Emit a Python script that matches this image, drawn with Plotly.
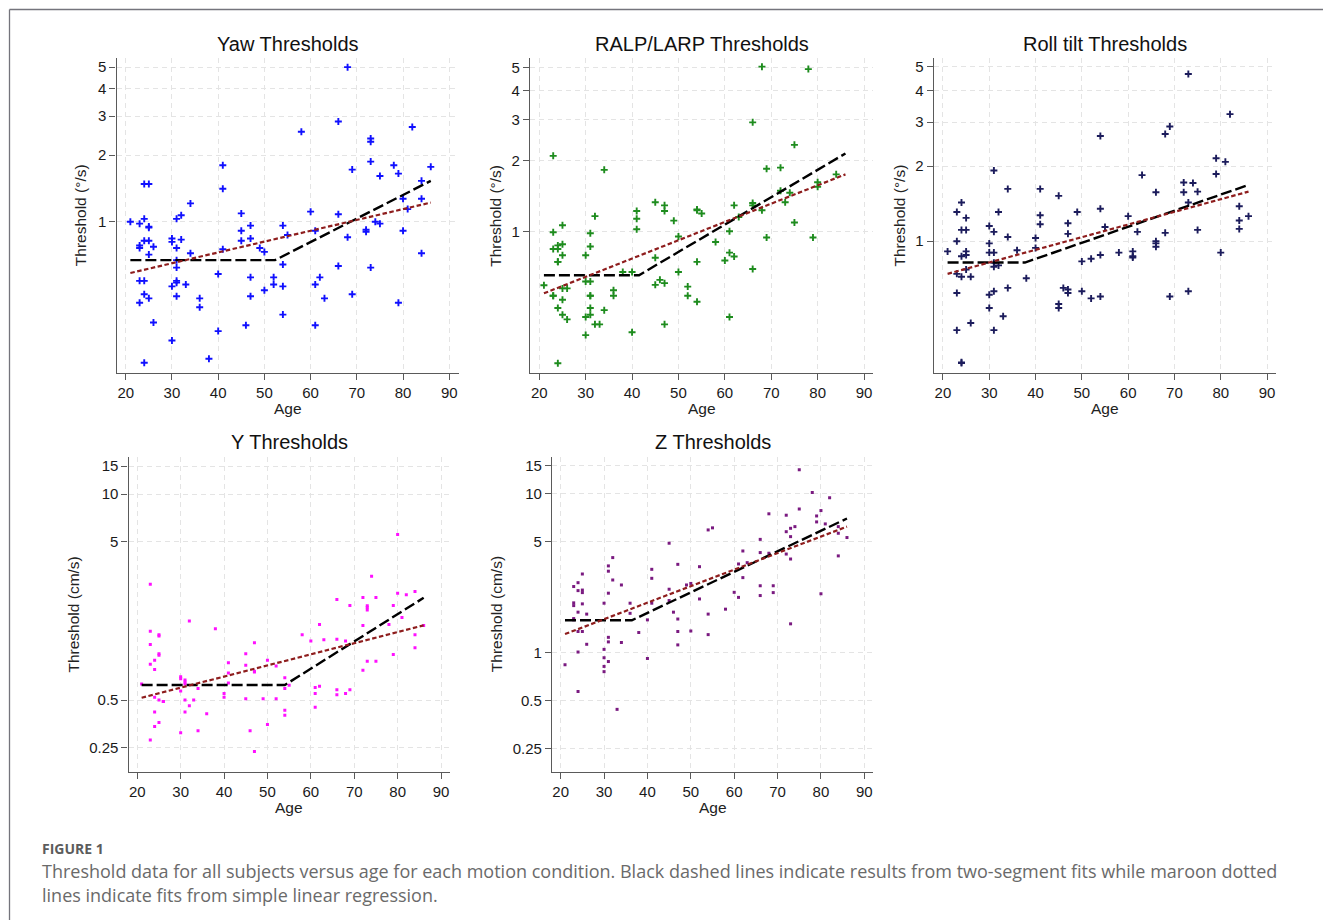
import plotly.graph_objects as go

W, H = 1323, 920

# ---- data: age (years) and threshold per motion condition ----
yaw_age = [21, 23, 23, 23, 23, 23, 24, 25, 24, 25, 25, 24, 25, 25, 26, 24, 24, 25, 26, 24,
           30, 30, 31, 32, 32, 31, 31, 31, 31, 31, 30, 31, 33, 34, 34, 30, 36, 36, 38, 40,
           40, 41, 41, 41, 45, 45, 45, 47, 47, 47, 47, 46, 49, 50, 50, 52, 52, 54, 55, 54,
           54, 54, 58, 60, 61, 62, 61, 63, 61, 66, 66, 66, 68, 68, 69, 69, 73, 73, 73, 72,
           72, 74, 75, 75, 73, 78, 79, 80, 80, 79, 82, 81, 84, 84, 84, 86]
yaw_thr = [1.0, 0.98, 0.78, 0.76, 0.54, 0.43, 1.48, 1.48, 1.03, 0.95, 0.94, 0.82, 0.82, 0.71,
           0.77, 0.54, 0.47, 0.45, 0.35, 0.23, 0.84, 0.81, 1.03, 1.07, 0.83, 0.76, 0.67, 0.62,
           0.54, 0.53, 0.51, 0.46, 0.52, 1.21, 0.72, 0.29, 0.45, 0.41, 0.24, 0.58, 0.32, 1.80,
           1.41, 0.75, 1.09, 0.91, 0.82, 0.96, 0.84, 0.56, 0.46, 0.34, 0.76, 0.73, 0.49, 0.56,
           0.52, 0.96, 0.87, 0.64, 0.51, 0.38, 2.55, 1.11, 0.91, 0.56, 0.52, 0.45, 0.34, 2.84,
           1.08, 0.63, 5.0, 0.85, 1.72, 0.47, 2.38, 2.30, 1.87, 0.92, 0.90, 1.0, 1.61, 0.98,
           0.62, 1.80, 1.65, 1.27, 0.91, 0.43, 2.68, 1.14, 1.53, 1.27, 0.72, 1.77]

ralp_age = [21, 23, 23, 23, 23, 23, 24, 24, 24, 24, 24, 24, 25, 25, 25, 25, 25, 25, 26, 26,
            30, 30, 30, 30, 31, 31, 31, 31, 31, 31, 31, 32, 32, 33, 34, 34, 36, 36, 38, 40,
            40, 41, 41, 41, 45, 45, 45, 46, 47, 47, 47, 47, 49, 50, 50, 52, 52, 54, 54, 54,
            54, 55, 58, 60, 61, 61, 61, 62, 62, 63, 66, 66, 66, 66, 68, 68, 69, 69, 72, 72,
            73, 74, 75, 75, 78, 79, 80, 80, 84]
ralp_thr = [0.588, 2.10, 0.99, 0.84, 0.53, 0.53, 0.87, 0.84, 0.74, 0.74, 0.47, 0.273, 1.06,
            0.88, 0.79, 0.57, 0.51, 0.44, 0.57, 0.42, 0.79, 0.61, 0.43, 0.36, 0.98, 0.86, 0.61,
            0.53, 0.53, 0.47, 0.44, 1.16, 0.40, 0.40, 1.83, 0.46, 0.56, 0.53, 0.67, 0.67, 0.37,
            1.22, 1.13, 1.02, 1.33, 0.77, 0.59, 0.62, 1.29, 1.22, 0.60, 0.40, 1.11, 0.95, 0.67,
            0.58, 0.53, 1.24, 1.23, 0.74, 0.50, 1.19, 0.90, 0.75, 1.0, 0.81, 0.43, 1.29, 0.78,
            1.15, 2.92, 1.32, 1.29, 0.69, 5.05, 1.23, 1.85, 0.94, 1.87, 1.49, 1.33, 1.46, 2.34,
            1.09, 4.93, 0.94, 1.62, 1.55, 1.75]

roll_age = [21, 23, 23, 23, 23, 23, 24, 24, 24, 24, 24, 24, 25, 25, 25, 25, 25, 26, 26, 30,
            30, 30, 30, 30, 31, 31, 31, 31, 31, 31, 31, 32, 32, 33, 34, 34, 34, 36, 38, 40,
            40, 41, 41, 41, 45, 45, 45, 46, 47, 47, 47, 47, 49, 50, 50, 52, 52, 54, 54, 54,
            54, 55, 58, 60, 61, 61, 61, 62, 63, 66, 66, 66, 66, 68, 68, 69, 69, 72, 72, 73,
            73, 73, 74, 75, 75, 79, 79, 80, 81, 82, 84, 84, 84, 86]
roll_thr = [0.91, 1.31, 1.0, 0.74, 0.62, 0.44, 1.43, 1.11, 0.87, 0.72, 0.327, 0.325, 1.24,
            1.11, 0.91, 0.88, 0.77, 0.72, 0.47, 1.15, 0.98, 0.90, 0.61, 0.54, 1.92, 1.09, 0.90,
            0.82, 0.79, 0.63, 0.44, 1.31, 0.80, 0.50, 1.62, 1.04, 0.65, 0.92, 0.71, 1.03, 0.94,
            1.62, 1.27, 1.17, 1.52, 0.56, 0.54, 0.65, 1.18, 1.07, 0.64, 0.62, 1.31, 0.83, 0.63,
            0.85, 0.59, 2.64, 1.35, 0.88, 0.60, 1.14, 0.90, 1.26, 0.91, 0.87, 0.86, 1.09, 1.84,
            1.57, 1.0, 0.98, 0.95, 2.69, 1.08, 2.88, 0.60, 1.72, 1.57, 4.68, 1.43, 0.63, 1.71,
            1.58, 1.11, 2.15, 1.86, 0.90, 2.08, 3.23, 1.38, 1.21, 1.12, 1.26]

y_age = [21, 23, 23, 23, 23, 23, 24, 24, 24, 24, 24, 25, 25, 25, 25, 25, 25, 26, 26, 30,
         30, 30, 30, 31, 31, 31, 31, 31, 32, 32, 33, 34, 34, 36, 38, 40, 40, 41, 41, 41,
         45, 45, 45, 46, 47, 47, 47, 47, 49, 50, 50, 52, 52, 54, 54, 54, 54, 55, 58, 60,
         61, 61, 61, 62, 62, 63, 66, 66, 66, 66, 68, 68, 69, 69, 72, 72, 72, 73, 73, 73,
         73, 74, 75, 75, 78, 79, 79, 80, 80, 81, 82, 84, 84, 84, 86]
y_thr = [0.63, 2.69, 1.36, 1.12, 0.84, 0.279, 0.89, 0.78, 0.52, 0.42, 0.34, 1.29, 1.27, 0.98,
         0.96, 0.50, 0.36, 0.49, 0.49, 0.70, 0.68, 0.57, 0.31, 0.67, 0.65, 0.63, 0.50, 0.42,
         1.58, 0.46, 0.50, 0.59, 0.32, 0.41, 1.41, 0.55, 0.52, 0.86, 0.74, 0.64, 0.98, 0.83,
         0.51, 0.32, 1.15, 0.76, 0.75, 0.236, 0.51, 0.89, 0.35, 0.82, 0.51, 0.69, 0.59, 0.43,
         0.40, 0.62, 1.29, 1.18, 0.60, 0.55, 0.45, 1.50, 0.61, 1.20, 2.16, 1.21, 0.58, 0.54,
         1.18, 0.55, 1.98, 0.58, 2.22, 1.48, 0.77, 1.97, 1.92, 1.85, 0.88, 3.02, 2.22, 0.88,
         1.50, 1.98, 0.97, 5.56, 2.36, 1.66, 2.31, 2.42, 1.29, 1.07, 1.48]

z_age = [21, 23, 23, 23, 23, 23, 24, 24, 24, 24, 24, 24, 25, 25, 25, 25, 25, 26, 26, 30,
         30, 30, 30, 30, 31, 31, 31, 31, 31, 31, 32, 32, 33, 34, 34, 36, 36, 38, 40, 40,
         41, 41, 41, 45, 45, 45, 46, 47, 47, 47, 47, 49, 50, 50, 52, 52, 54, 54, 54, 55,
         58, 60, 61, 61, 62, 62, 63, 66, 66, 66, 66, 68, 68, 69, 69, 72, 72, 72, 73, 73,
         73, 73, 74, 75, 75, 78, 79, 79, 80, 80, 81, 82, 84, 84, 84, 86]
z_thr = [0.84, 2.61, 2.06, 1.98, 1.64, 1.61, 2.76, 2.46, 1.80, 1.36, 1.01, 0.57, 3.13, 2.48,
         2.39, 2.03, 1.36, 1.75, 1.13, 2.05, 1.05, 0.93, 0.82, 0.76, 3.52, 3.26, 2.37, 1.25,
         1.17, 0.88, 3.97, 2.87, 0.44, 2.67, 1.16, 2.05, 1.77, 1.34, 1.61, 0.92, 3.35, 2.94,
         2.05, 4.89, 2.51, 2.13, 1.80, 3.60, 1.63, 1.36, 1.12, 2.67, 2.73, 1.37, 3.48, 2.18,
         5.93, 1.75, 1.30, 6.11, 1.88, 2.40, 3.62, 2.23, 4.37, 2.97, 3.69, 5.17, 4.27, 2.64,
         2.29, 7.49, 4.23, 2.64, 2.39, 7.34, 5.78, 4.18, 6.07, 5.38, 3.89, 1.52, 6.22, 14.2,
         8.03, 10.2, 7.26, 6.66, 7.85, 2.35, 6.47, 9.47, 6.22, 5.65, 4.07, 5.31]

# ---- fitted lines: two-segment (break points) and simple linear regression ----
yaw_seg_age, yaw_seg_thr = [21, 52.3, 86], [0.67, 0.67, 1.53]
yaw_lin_age, yaw_lin_thr = [21, 86], [0.586, 1.22]
ralp_seg_age, ralp_seg_thr = [21, 41.5, 86], [0.649, 0.649, 2.15]
ralp_lin_age, ralp_lin_thr = [21, 86], [0.543, 1.75]
roll_seg_age, roll_seg_thr = [21, 37.7, 86], [0.821, 0.821, 1.68]
roll_lin_age, roll_lin_thr = [21, 86], [0.74, 1.58]
y_seg_age, y_seg_thr = [21, 54, 86], [0.622, 0.622, 2.21]
y_lin_age, y_lin_thr = [21, 86], [0.517, 1.48]
z_seg_age, z_seg_thr = [21, 36.4, 86], [1.60, 1.60, 7.0]
z_lin_age, z_lin_thr = [21, 86], [1.31, 6.22]

age_ticks = [20, 30, 40, 50, 60, 70, 80, 90]
rot_ticks = [1, 2, 3, 4, 5]
y_ticks = [0.25, 0.5, 5, 10, 15]
z_ticks = [0.25, 0.5, 1, 5, 10, 15]

titles = ["Yaw Thresholds", "RALP/LARP Thresholds", "Roll tilt Thresholds",
          "Y Thresholds", "Z Thresholds"]
ylabels = ["Threshold (°/s)", "Threshold (°/s)", "Threshold (°/s)",
           "Threshold (cm/s)", "Threshold (cm/s)"]

FONT = "Liberation Sans, Arial, sans-serif"
AXIS_GREY = "#5a5a5a"
GRID_GREY = "#e4e4e4"

# panel boxes in pixels: left, right, top, bottom, y range (log10), y-label x, x-label y
panels = [
    dict(l=116.5, r=458.5, t=58.3, b=372.7, yr=[-0.683, 0.739], ylx=80.7, xly=408,
         age=yaw_age, thr=yaw_thr, sa=yaw_seg_age, st=yaw_seg_thr, la=yaw_lin_age, lt=yaw_lin_thr,
         ticks=rot_ticks, color="#1010ff", sym="cross-thin", size=5),
    dict(l=530.0, r=873.3, t=58.3, b=373.3, yr=[-0.607, 0.739], ylx=496, xly=408,
         age=ralp_age, thr=ralp_thr, sa=ralp_seg_age, st=ralp_seg_thr, la=ralp_lin_age, lt=ralp_lin_thr,
         ticks=rot_ticks, color="#1e8c1e", sym="cross-thin", size=5),
    dict(l=933.7, r=1276.3, t=58.3, b=372.7, yr=[-0.527, 0.733], ylx=899, xly=408,
         age=roll_age, thr=roll_thr, sa=roll_seg_age, st=roll_seg_thr, la=roll_lin_age, lt=roll_lin_thr,
         ticks=rot_ticks, color="#1c1c5c", sym="cross-thin", size=5),
    dict(l=128.6, r=449.7, t=456.7, b=771.7, yr=[-0.754, 1.236], ylx=73.3, xly=807,
         age=y_age, thr=y_thr, sa=y_seg_age, st=y_seg_thr, la=y_lin_age, lt=y_lin_thr,
         ticks=y_ticks, color="#ff10ff", sym="square", size=3),
    dict(l=552.0, r=873.0, t=456.7, b=771.7, yr=[-0.749, 1.234], ylx=496, xly=807,
         age=z_age, thr=z_thr, sa=z_seg_age, st=z_seg_thr, la=z_lin_age, lt=z_lin_thr,
         ticks=z_ticks, color="#7a1a80", sym="square", size=3),
]


def px_x(p):
    return p / W


def px_y(p):
    return 1 - p / H


def fmt(v):
    return ("%g" % v)


fig = go.Figure()
annotations = []
layout_axes = {}

for i, p in enumerate(panels, start=1):
    xa = "x" if i == 1 else f"x{i}"
    ya = "y" if i == 1 else f"y{i}"
    xkey = "xaxis" if i == 1 else f"xaxis{i}"
    ykey = "yaxis" if i == 1 else f"yaxis{i}"

    marker = dict(symbol=p["sym"], size=p["size"], color=p["color"],
                  line=dict(color=p["color"], width=1.9 if p["sym"] == "cross-thin" else 0))
    fig.add_trace(go.Scatter(x=p["age"], y=p["thr"], mode="markers", marker=marker,
                             xaxis=xa, yaxis=ya, showlegend=False, hoverinfo="x+y"))
    fig.add_trace(go.Scatter(x=p["sa"], y=p["st"], mode="lines",
                             line=dict(color="black", width=2.4, dash="11px,4px"),
                             xaxis=xa, yaxis=ya, showlegend=False))
    fig.add_trace(go.Scatter(x=p["la"], y=p["lt"], mode="lines",
                             line=dict(color="#8e1d1d", width=2.2, dash="4.5px,2.5px"),
                             xaxis=xa, yaxis=ya, showlegend=False))

    layout_axes[xkey] = dict(
        domain=[px_x(p["l"]), px_x(p["r"])], range=[18, 92], anchor=ya,
        tickmode="array", tickvals=age_ticks, ticks="outside", ticklen=6,
        tickcolor=AXIS_GREY, tickwidth=1, showline=True, linecolor=AXIS_GREY, linewidth=1.3,
        showgrid=True, gridcolor=GRID_GREY, griddash="5px,4px", gridwidth=1.2,
        zeroline=False, tickfont=dict(family=FONT, size=15, color="#1a1a1a"),
    )
    layout_axes[ykey] = dict(
        domain=[px_y(p["b"]), px_y(p["t"])], type="log", range=p["yr"], anchor=xa,
        tickmode="array", tickvals=p["ticks"], ticktext=[fmt(v) for v in p["ticks"]],
        ticks="outside", ticklen=6, tickcolor=AXIS_GREY, tickwidth=1,
        showline=True, linecolor=AXIS_GREY, linewidth=1.3,
        showgrid=True, gridcolor=GRID_GREY, griddash="5px,4px", gridwidth=1.2,
        zeroline=False, tickfont=dict(family=FONT, size=15, color="#1a1a1a"),
    )

    cx = (p["l"] + p["r"]) / 2
    annotations.append(dict(text=titles[i - 1], x=px_x(cx), y=px_y(p["t"] - 14.5),
                            xref="paper", yref="paper", showarrow=False,
                            xanchor="center", yanchor="middle",
                            font=dict(family=FONT, size=20, color="#111")))
    annotations.append(dict(text="Age", x=px_x(cx), y=px_y(p["xly"]),
                            xref="paper", yref="paper", showarrow=False,
                            xanchor="center", yanchor="middle",
                            font=dict(family=FONT, size=15.5, color="#222")))
    annotations.append(dict(text=ylabels[i - 1], x=px_x(p["ylx"]),
                            y=px_y((p["t"] + p["b"]) / 2),
                            xref="paper", yref="paper", showarrow=False, textangle=-90,
                            xanchor="center", yanchor="middle",
                            font=dict(family=FONT, size=15.5, color="#222")))

CAP_FONT = "Open Sans, Noto Sans, sans-serif"
annotations.append(dict(text="<b>FIGURE 1</b>", x=px_x(40), y=px_y(848), xref="paper",
                        yref="paper", showarrow=False, xanchor="left", yanchor="middle",
                        font=dict(family=CAP_FONT, size=14, color="#5c5c5c")))
annotations.append(dict(
    text="Threshold data for all subjects versus age for each motion condition. Black dashed "
         "lines indicate results from two-segment fits while maroon dotted",
    x=px_x(40), y=px_y(871), xref="paper", yref="paper", showarrow=False,
    xanchor="left", yanchor="middle", font=dict(family=CAP_FONT, size=18, color="#6a6a6a")))
annotations.append(dict(
    text="lines indicate fits from simple linear regression.",
    x=px_x(40), y=px_y(895), xref="paper", yref="paper", showarrow=False,
    xanchor="left", yanchor="middle", font=dict(family=CAP_FONT, size=18, color="#6a6a6a")))

# outer frame: top and left rules
shapes = [
    dict(type="line", xref="paper", yref="paper", x0=px_x(9.5), x1=1, y0=px_y(9.5), y1=px_y(9.5),
         line=dict(color="#74747c", width=1.3)),
    dict(type="line", xref="paper", yref="paper", x0=px_x(9.5), x1=px_x(9.5), y0=0, y1=px_y(9.5),
         line=dict(color="#74747c", width=1.3)),
]

fig.update_layout(
    width=W, height=H, margin=dict(l=0, r=0, t=0, b=0),
    paper_bgcolor="white", plot_bgcolor="white",
    annotations=annotations, shapes=shapes, showlegend=False,
    **layout_axes,
)

fig.write_html("out.html", config={"displayModeBar": False})
